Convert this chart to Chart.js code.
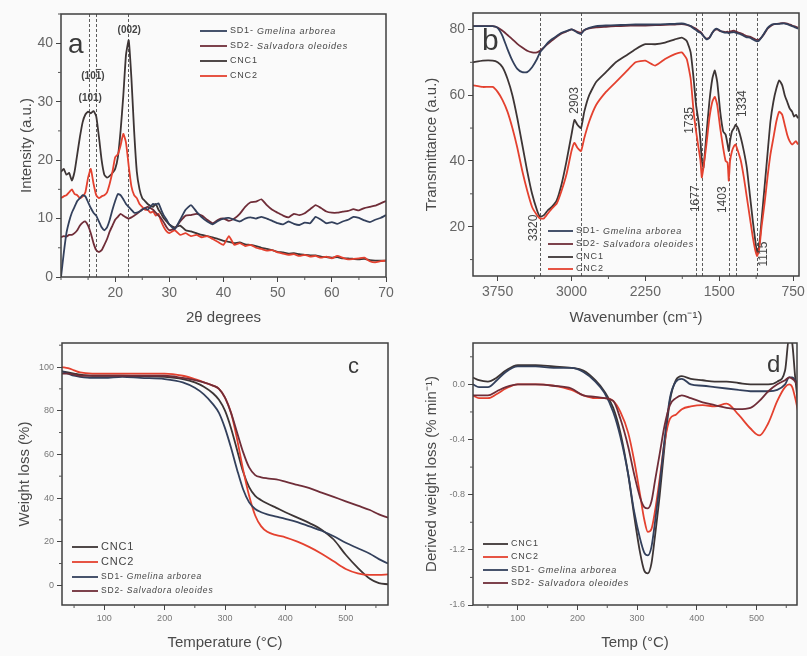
<!DOCTYPE html>
<html>
<head>
<meta charset="utf-8">
<script src="https://cdn.jsdelivr.net/npm/chart.js@4.4.1/dist/chart.umd.min.js"></script>
<style>
  html, body { margin: 0; padding: 0; background: #fafafa; }
  #wrap { position: relative; width: 807px; height: 656px; overflow: hidden; }
  #wrap canvas { position: absolute; left: 0; top: 0; }
</style>
</head>
<body>
<div id="wrap">
  <canvas id="xrd" width="807" height="656"></canvas>
  <canvas id="ftir" width="807" height="656"></canvas>
  <canvas id="tga" width="807" height="656"></canvas>
  <canvas id="dtg" width="807" height="656"></canvas>
</div>
<script>
// ---- (a) XRD ----
const twoTheta = [10,10.5,11,11.5,12,12.5,13,13.5,14,14.5,15,15.5,16,16.5,17,17.5,18,18.5,19,19.5,
  20,20.5,21,21.5,22,22.5,23,23.5,24,24.5,25,25.5,26,26.5,27,27.5,28,28.5,29,29.5,30,
  31,32,33,34,35,36,37,38,39,40,41,42,43,44,45,46,47,48,49,50,51,52,53,54,55,56,57,58,59,60,
  61,62,63,64,65,66,67,68,69,70];
const xrdCnc1 = [18,18.5,17.5,17.8,16.5,18,21,24,26.5,27.8,28.3,28,28.4,27.5,24,20,17.5,17,17.3,17.8,
  18.5,20.5,25,31,38,40.5,34,25,18,15,13.5,13,12.5,12.2,12,12.5,11.5,10.8,10,9.5,9,
  8.5,8.8,8,7.8,7.5,7.2,7,6.8,6.5,6.2,6,5.8,5.9,5.6,5.5,5.3,5,4.8,4.6,4.3,
  4.2,4,4.1,3.9,3.8,3.7,3.7,3.5,3.4,3.3,3.4,3.2,3.2,3.1,3,3.1,2.9,2.8,2.8,2.8];
const xrdCnc2 = [13.5,13.8,14,14.5,15,14.2,14,13.5,13.8,14.5,17,18.5,16,14,13.5,13.8,14,14.5,16,18,
  20.5,21,22.5,24.5,23,19,15.5,14,13.5,12.5,12,11.5,11.5,11,11.2,10.5,10.8,9.5,8.5,7.8,7.5,
  8,7.2,7.5,7,7.2,6.8,7,6.5,6,5.5,7,5.5,5.8,5.3,5.5,5,4.8,4.5,4.6,4.2,
  4,3.8,3.9,3.6,3.8,3.5,3.6,3.3,3.5,3.2,3.6,3.3,3,3.1,3.2,3.3,2.7,2.5,2.7,2.8];
const xrdSd1 = [0,4,7.5,9.5,11,12,13,13.5,14,13.8,12.8,11.8,11,10.5,9.5,8.5,8,8.5,9.8,11.5,
  13,14.2,14,13.3,12.5,12,11.5,11,11,11.2,11.5,11.8,11.5,12,12.5,12.4,12.6,11.5,10.5,9.8,9,
  8.2,9.8,11.5,12.3,11.2,10.2,9.5,9,9.6,10,10.1,9.8,9.5,10,10.2,10,10.3,10,9.6,9.2,
  9,9.5,9.1,8.9,9.3,9.2,10.3,9.8,9.2,9.4,9.1,9.5,9.8,10.3,10.1,9.7,9.4,9.8,10.1,10.6];
const xrdSd2 = [6.8,7,6.9,7.2,7.2,7.5,8,8.8,9.3,9.5,8.8,7.5,5.8,4.6,4.3,4.6,5.5,6.5,7.8,8.8,
  9.8,10.3,10.8,10.5,10.2,10,10.2,10.5,10.8,11.2,11.6,11.8,12,11.8,11.5,11,10.5,10,9.3,8.5,8,
  8.3,9.5,10.5,10.6,10.8,10.5,9.8,9.2,9.8,10,9.6,10,10.8,12,12.8,12.9,13.3,12.3,11.5,11,
  10.5,10.2,10.8,10.6,10.9,11.6,12.3,11.8,11.2,11,11,11.2,11.3,11.6,11.4,11.8,12,12.2,12.6,13];
const xrdPeaks = [15.2, 16.5, 22.4];
const xrdPeakLabels = ['(101)', '(101)', '(002)'];
const xrdTicksX = [20, 30, 40, 50, 60, 70];
const xrdTicksY = [0, 10, 20, 30, 40];

// ---- (b) FTIR ----
const wavenumber = [4000,3900,3800,3750,3700,3650,3600,3550,3500,3450,
  3400,3350,3320,3280,3240,3200,3150,3100,3050,3000,
  2970,2940,2903,2870,2820,2750,2650,2550,2450,2350,
  2250,2150,2050,1950,1880,1830,1790,1760,1735,1710,
  1690,1677,1660,1630,1600,1570,1545,1520,1490,1460,
  1435,1415,1403,1390,1370,1350,1334,1310,1280,1250,
  1220,1190,1160,1135,1115,1095,1070,1040,1010,980,
  950,920,890,860,835,810,785,760,740,720,700];
const ftirSd1 = [81,81,81,80.5,78,74,70.5,68,67,67,
  68.5,71,73,74.5,76,77,78,79,79.5,80,
  79.6,79,78.6,79.8,80.5,81,81.2,81.3,81.4,81.5,
  81.5,81.5,81.6,81.7,81.8,81.5,81,80.3,79.8,79.2,
  79,78.6,78,77,77.4,79,80,80.2,79.6,79.2,
  79,79,78.8,79,79.1,79.2,79,78.8,78.5,78,
  77.6,77.5,77,76.6,76.4,76.6,77.6,79,80.4,81.2,
  81.6,81.7,81.7,81.8,81.8,81.6,81.3,81,80.8,80.5,80.2];
const ftirSd2 = [81,81,81,80.6,79.6,78.3,77,75.6,74.5,73.5,
  73,73,73.5,74.5,75.6,76.6,77.8,78.8,79.4,80,
  79.7,79.3,79,79.8,80.3,80.6,80.8,81,81.1,81.2,
  81.2,81.3,81.4,81.5,81.6,81.4,81,80.6,80.2,79.6,
  79.2,78.8,78,77.2,77.5,79,79.8,80,79.5,79.3,
  79.2,79.3,79,79.4,79.5,79.6,79.4,79.1,78.8,78.4,
  78,77.8,77.4,77,76.8,76.9,77.6,78.8,80.2,81,
  81.5,81.7,81.8,81.9,81.9,81.8,81.5,81.2,81,80.8,80.5];
const ftirCnc1 = [70,70.5,70.5,70,68.5,65,60,53,45,37,
  30,25,23,23.5,25,26,28,33,40,48,
  52.5,51,50,55,60,64,67,70,72,74,
  75.5,75.5,76,77,77.5,76.5,73,65,57,52,
  46,40,38,48,58,65,67.5,64,55,49,
  48,45,43,46,49,50,51,50,47,43,
  38,30,22,16,12,14,22,32,42,52,
  58,62,64.5,63,60,58,56,55,53.5,54,53];
const ftirCnc2 = [63,62.5,62.5,61,58.5,55,50,44,37,31,
  26,23.5,22.5,22.5,24,25.5,27,31,36,43,
  45.5,44,43,47,52,57,61,64,67,70,
  70.5,69,71,72.5,73,71,65,55,49,44,
  40,35,38,45,53,58,59.5,57,50,44,
  40,39.5,34,40,43,44.5,45,43,40,35,
  29,23,17,13,11,13,20,27,35,42,
  47,52,55,54,51,48,46,45,45.5,46,45];
const ftirBands = [3320, 2903, 1735, 1677, 1403, 1334, 1115];
const ftirTicksX = [750, 1500, 2250, 3000, 3750];
const ftirTicksY = [20, 40, 60, 80];

// ---- (c) TGA ----
const tgaTemp = [30,40,50,60,80,100,130,160,200,230,250,265,280,290,300,310,320,330,340,350,
  360,370,385,400,420,440,460,480,500,520,540,555,570];
const tgaCnc1 = [98,97.5,97,96.5,96,96,96,95.8,95.5,94.5,93,91,88,85,80,72,62,52,45,41,
  39,37.5,35.5,33.5,31,28.5,25.5,21,14,8,3,1,0.5];
const tgaCnc2 = [100,99.5,98.5,97.5,97,97,97,97,97,96,94.5,93,91.5,90,86,79,67,53,41,32,
  27,24.5,23,22,20,17.5,14.5,11,7.5,5.5,4.8,4.8,5];
const tgaSd1 = [98,97,96,95.5,95,95,95.5,95,94.5,93,90.5,87.5,83,79,72,63,53,44,38,35,
  33.5,32.5,31.5,30.5,29,27,25,22.5,19.5,17,14.5,12,10];
const tgaSd2 = [97,97,96.5,96,96,96,96,96,96,95,94,93,91.5,90,86,79,70,61,54,50.5,
  49.5,49,48.5,47.5,46,44.5,42.5,40.5,38.5,36.5,34.5,32.5,31];
const tempTicks = [100, 200, 300, 400, 500];
const tgaTicksY = [0, 20, 40, 60, 80, 100];

// ---- (d) DTG ----
const dtgTemp = [25,35,50,65,80,100,130,160,190,210,230,245,260,272,285,295,305,312,318,324,
  330,338,346,355,365,375,390,410,430,450,470,490,505,520,535,548,555,560,565,570];
const dtgCnc1 = [0.05,0.03,0.02,0.05,0.1,0.14,0.14,0.13,0.12,0.1,0.03,-0.05,-0.17,-0.35,-0.65,-0.95,-1.22,-1.35,-1.37,-1.3,
  -1.1,-0.8,-0.45,-0.12,0.03,0.06,0.04,0.03,0.02,0.02,0.01,0,0,0,0.02,0.1,0.35,0.3,0.05,-0.15];
const dtgCnc2 = [-0.08,-0.1,-0.1,-0.07,-0.03,0,0,-0.01,-0.04,-0.08,-0.1,-0.1,-0.12,-0.2,-0.35,-0.55,-0.8,-0.98,-1.07,-1.05,
  -0.92,-0.68,-0.42,-0.25,-0.22,-0.18,-0.16,-0.15,-0.16,-0.14,-0.22,-0.32,-0.37,-0.28,-0.12,-0.02,0,-0.02,-0.1,-0.2];
const dtgSd1 = [0,-0.02,-0.02,0.03,0.09,0.13,0.13,0.12,0.12,0.09,0.02,-0.06,-0.2,-0.38,-0.65,-0.92,-1.12,-1.22,-1.24,-1.18,
  -1,-0.72,-0.4,-0.1,0.02,0.04,0,-0.01,-0.02,-0.03,-0.04,-0.05,-0.05,-0.05,-0.04,0,0.05,0.05,0.03,0];
const dtgSd2 = [-0.08,-0.08,-0.08,-0.05,-0.02,0,0,-0.01,-0.03,-0.08,-0.09,-0.1,-0.12,-0.25,-0.45,-0.65,-0.82,-0.89,-0.9,-0.85,
  -0.7,-0.5,-0.3,-0.15,-0.1,-0.08,-0.1,-0.13,-0.15,-0.17,-0.18,-0.17,-0.12,-0.05,0,0.03,0.05,0.04,0.02,-0.02];
const dtgTicksY = [-1.6, -1.2, -0.8, -0.4, 0];

const W = 807, H = 656;
const FONT = '"Liberation Sans", Arial, sans-serif';
const COL = { cnc1: '#3d3535', cnc2: '#e4412f', sd1: '#33405c', sd2: '#6f2d38' };
const SD1 = ['SD1- ', 'Gmelina arborea'], SD2 = ['SD2- ', 'Salvadora oleoides'];

Chart.defaults.font.family = FONT;

function line(label, xs, ys, color, smooth) {
  return {
    label, borderColor: color, borderWidth: 1.8, pointRadius: 0, fill: false,
    data: xs.map((x, i) => ({ x, y: ys[i] })),
    tension: smooth ? 0 : 0.15,
    cubicInterpolationMode: smooth ? 'monotone' : 'default'
  };
}

// frame, minor ticks, reference lines, legend and panel letter
const extras = {
  id: 'extras',
  beforeDatasetsDraw(chart, args, o) {
    const { ctx, chartArea: a, scales: { x } } = chart;
    ctx.save();
    ctx.strokeStyle = '#4a4a4a';
    ctx.lineWidth = 0.9;
    ctx.setLineDash([3, 2]);
    (o.refs || []).forEach(v => {
      const px = Math.round(x.getPixelForValue(v)) + 0.5;
      ctx.beginPath(); ctx.moveTo(px, a.top); ctx.lineTo(px, a.bottom); ctx.stroke();
    });
    ctx.restore();
  },
  afterDatasetsDraw(chart, args, o) {
    const { ctx, chartArea: a, scales: { x, y } } = chart;
    ctx.save();
    ctx.strokeStyle = '#3f3f3f';
    ctx.lineWidth = 1.5;
    ctx.strokeRect(a.left, a.top, a.width, a.height);

    // minor ticks
    ctx.lineWidth = 1;
    ctx.strokeStyle = '#555';
    const minor = (sc, start, step, majors, vertical) => {
      const lo = Math.min(sc.min, sc.max), hi = Math.max(sc.min, sc.max);
      for (let v = start; v <= hi + 1e-9; v += step) {
        if (v < lo - 1e-9 || majors.some(m => Math.abs(m - v) < step / 10)) continue;
        const p = sc.getPixelForValue(v);
        ctx.beginPath();
        if (vertical) { ctx.moveTo(p, a.bottom); ctx.lineTo(p, a.bottom + 3); }
        else { ctx.moveTo(a.left, p); ctx.lineTo(a.left - 3, p); }
        ctx.stroke();
      }
    };
    minor(x, o.minorX[0], o.minorX[1], o.majorX, true);
    minor(y, o.minorY[0], o.minorY[1], o.majorY, false);

    // reference labels (optional overbar on one character)
    ctx.fillStyle = '#444';
    ctx.strokeStyle = '#444';
    (o.refLabels || []).forEach(r => {
      ctx.save();
      ctx.font = r.font;
      ctx.textAlign = 'center';
      ctx.textBaseline = 'middle';
      ctx.translate(x.getPixelForValue(r.x) + (r.dx || 0), y.getPixelForValue(r.y));
      if (r.rotate) ctx.rotate(-Math.PI / 2);
      ctx.fillText(r.text, 0, 0);
      if (r.bar !== undefined) {
        const w = ctx.measureText(r.text).width;
        const b0 = -w / 2 + ctx.measureText(r.text.slice(0, r.bar)).width;
        const b1 = b0 + ctx.measureText(r.text[r.bar]).width;
        ctx.lineWidth = 1;
        ctx.beginPath(); ctx.moveTo(b0, -6.5); ctx.lineTo(b1, -6.5); ctx.stroke();
      }
      ctx.restore();
    });

    // legend
    const L = o.legend;
    ctx.letterSpacing = '0.8px';
    L.items.forEach((it, i) => {
      const ly = L.y[i];
      ctx.strokeStyle = it.color;
      ctx.lineWidth = 1.8;
      ctx.beginPath(); ctx.moveTo(L.x0, ly); ctx.lineTo(L.x1, ly); ctx.stroke();
      const size = it.size || L.size;
      ctx.fillStyle = '#444';
      ctx.textBaseline = 'middle';
      ctx.textAlign = 'left';
      ctx.font = `${size}px ${FONT}`;
      const head = Array.isArray(it.text) ? it.text[0] : it.text;
      ctx.fillText(head, L.x1 + 3, ly);
      if (Array.isArray(it.text)) {
        const w = ctx.measureText(head).width;
        ctx.font = `italic ${size}px ${FONT}`;
        ctx.fillText(it.text[1], L.x1 + 3 + w, ly);
      }
    });
    ctx.letterSpacing = '0px';

    // panel letter
    ctx.fillStyle = '#3a3a3a';
    ctx.font = `${o.letter.size}px ${FONT}`;
    ctx.textAlign = 'left';
    ctx.textBaseline = 'alphabetic';
    ctx.fillText(o.letter.text, o.letter.x, o.letter.y);
    ctx.restore();
  }
};

function panel(id, p) {
  const lh = 15 * 1.2;
  const left = p.yTitleX - lh / 2;
  const bottom = p.xTitleY + lh / 2;
  const tickFont = { size: p.tickSize, family: FONT };
  const grid = { display: true, drawOnChartArea: false, drawTicks: true, tickLength: 5, color: '#444', lineWidth: 1 };
  return new Chart(document.getElementById(id), {
    type: 'line',
    data: { datasets: p.datasets },
    options: {
      responsive: false,
      animation: false,
      devicePixelRatio: 1,
      layout: { padding: { left, top: p.plot.top, right: W - p.plot.right, bottom: H - bottom } },
      plugins: { legend: { display: false }, tooltip: { enabled: false }, extras: p.extras },
      scales: {
        x: {
          type: 'linear', min: p.x.min, max: p.x.max, reverse: !!p.x.reverse,
          afterFit: s => { s.height = bottom - p.plot.bottom; },
          afterBuildTicks: s => { s.ticks = p.x.ticks.map(v => ({ value: v })); },
          grid, border: { display: false },
          ticks: { font: tickFont, color: p.tickColor, padding: 3, maxRotation: 0, callback: v => String(v) },
          title: { display: true, text: p.x.title, color: '#4a4a4a', font: { size: 15, family: FONT }, padding: 0 }
        },
        y: {
          type: 'linear', min: p.y.min, max: p.y.max,
          afterFit: s => { s.width = p.plot.left - left; },
          afterBuildTicks: s => { s.ticks = p.y.ticks.map(v => ({ value: v })); },
          grid, border: { display: false },
          ticks: { font: tickFont, color: p.tickColor, padding: 3, callback: p.y.format || (v => String(v)) },
          title: { display: true, text: p.y.title, color: '#4a4a4a', font: { size: 15, family: FONT }, padding: 0 }
        }
      }
    },
    plugins: [extras]
  });
}

// (a)
panel('xrd', {
  plot: { left: 61, right: 386, top: 14, bottom: 277 },
  yTitleX: 27, xTitleY: 318, tickSize: 14, tickColor: '#666',
  x: { min: 10, max: 70, ticks: xrdTicksX, title: '2θ degrees' },
  y: { min: 0, max: 45, ticks: xrdTicksY, title: 'Intensity (a.u.)' },
  datasets: [
    line('SD1', twoTheta, xrdSd1, COL.sd1),
    line('SD2', twoTheta, xrdSd2, COL.sd2),
    line('CNC2', twoTheta, xrdCnc2, COL.cnc2),
    line('CNC1', twoTheta, xrdCnc1, COL.cnc1)
  ],
  extras: {
    refs: xrdPeaks,
    minorX: [10, 5], majorX: xrdTicksX, minorY: [5, 5], majorY: xrdTicksY,
    refLabels: [
      { x: 15.4, y: 30.6, text: xrdPeakLabels[0], font: `bold 10px ${FONT}` },
      { x: 15.9, y: 34.4, text: xrdPeakLabels[1], font: `bold 10px ${FONT}`, bar: 3 },
      { x: 22.6, y: 42.3, text: xrdPeakLabels[2], font: `bold 10px ${FONT}` }
    ],
    legend: {
      x0: 200, x1: 227, y: [31, 46, 61, 76], size: 9,
      items: [
        { color: COL.sd1, text: SD1 }, { color: COL.sd2, text: SD2 },
        { color: COL.cnc1, text: 'CNC1' }, { color: COL.cnc2, text: 'CNC2' }
      ]
    },
    letter: { text: 'a', x: 68, y: 53, size: 28 }
  }
});

// (b)
panel('ftir', {
  plot: { left: 473, right: 799, top: 13, bottom: 276 },
  yTitleX: 432, xTitleY: 318, tickSize: 14, tickColor: '#666',
  x: { min: 690, max: 4000, reverse: true, ticks: ftirTicksX, title: 'Wavenumber (cm\u207B\u00B9)' },
  y: { min: 5, max: 85, ticks: ftirTicksY, title: 'Transmittance (a.u.)' },
  datasets: [
    line('SD1', wavenumber, ftirSd1, COL.sd1),
    line('SD2', wavenumber, ftirSd2, COL.sd2),
    line('CNC2', wavenumber, ftirCnc2, COL.cnc2),
    line('CNC1', wavenumber, ftirCnc1, COL.cnc1)
  ],
  extras: {
    refs: ftirBands,
    minorX: [750, 375], majorX: ftirTicksX, minorY: [10, 10], majorY: ftirTicksY,
    refLabels: [
      { x: ftirBands[0], dx: -6, y: 19.6, text: '3320', rotate: true, font: `12px ${FONT}` },
      { x: ftirBands[1], dx: -6, y: 58.4, text: '2903', rotate: true, font: `12px ${FONT}` },
      { x: ftirBands[2], dx: -6, y: 52.3, text: '1735', rotate: true, font: `12px ${FONT}` },
      { x: ftirBands[3], dx: -6, y: 28.5, text: '1677', rotate: true, font: `12px ${FONT}` },
      { x: ftirBands[4], dx: -6, y: 28.2, text: '1403', rotate: true, font: `12px ${FONT}` },
      { x: ftirBands[5], dx: 7, y: 57.4, text: '1334', rotate: true, font: `12px ${FONT}` },
      { x: ftirBands[6], dx: 7, y: 11.7, text: '1115', rotate: true, font: `12px ${FONT}` }
    ],
    legend: {
      x0: 548, x1: 573, y: [231, 244, 257, 269], size: 9,
      items: [
        { color: COL.sd1, text: SD1 }, { color: COL.sd2, text: SD2 },
        { color: COL.cnc1, text: 'CNC1' }, { color: COL.cnc2, text: 'CNC2' }
      ]
    },
    letter: { text: 'b', x: 482, y: 50, size: 30 }
  }
});

// (c)
panel('tga', {
  plot: { left: 62, right: 388, top: 343, bottom: 605 },
  yTitleX: 25, xTitleY: 643, tickSize: 9, tickColor: '#777',
  x: { min: 30, max: 570, ticks: tempTicks, title: 'Temperature (°C)' },
  y: { min: -9, max: 111, ticks: tgaTicksY, title: 'Weight loss (%)' },
  datasets: [
    line('SD2', tgaTemp, tgaSd2, COL.sd2, true),
    line('SD1', tgaTemp, tgaSd1, COL.sd1, true),
    line('CNC2', tgaTemp, tgaCnc2, COL.cnc2, true),
    line('CNC1', tgaTemp, tgaCnc1, COL.cnc1, true)
  ],
  extras: {
    minorX: [50, 50], majorX: tempTicks, minorY: [10, 10], majorY: tgaTicksY,
    legend: {
      x0: 72, x1: 98, y: [547, 562, 577, 591], size: 8.5,
      items: [
        { color: COL.cnc1, text: 'CNC1', size: 11 }, { color: COL.cnc2, text: 'CNC2', size: 11 },
        { color: COL.sd1, text: SD1 }, { color: COL.sd2, text: SD2 }
      ]
    },
    letter: { text: 'c', x: 348, y: 373, size: 22 }
  }
});

// (d)
panel('dtg', {
  plot: { left: 473, right: 797, top: 343, bottom: 605 },
  yTitleX: 432, xTitleY: 643, tickSize: 9, tickColor: '#777',
  x: { min: 25, max: 568, ticks: tempTicks, title: 'Temp (°C)' },
  y: { min: -1.6, max: 0.3, ticks: dtgTicksY, title: 'Derived weight loss (% min\u207B\u00B9)', format: v => v.toFixed(1) },
  datasets: [
    line('SD2', dtgTemp, dtgSd2, COL.sd2, true),
    line('SD1', dtgTemp, dtgSd1, COL.sd1, true),
    line('CNC2', dtgTemp, dtgCnc2, COL.cnc2, true),
    line('CNC1', dtgTemp, dtgCnc1, COL.cnc1, true)
  ],
  extras: {
    minorX: [50, 50], majorX: tempTicks, minorY: [-1.4, 0.4], majorY: dtgTicksY,
    legend: {
      x0: 483, x1: 508, y: [544, 557, 570, 583], size: 9,
      items: [
        { color: COL.cnc1, text: 'CNC1' }, { color: COL.cnc2, text: 'CNC2' },
        { color: COL.sd1, text: SD1 }, { color: COL.sd2, text: SD2 }
      ]
    },
    letter: { text: 'd', x: 767, y: 372, size: 24 }
  }
});
</script>
</body>
</html>
